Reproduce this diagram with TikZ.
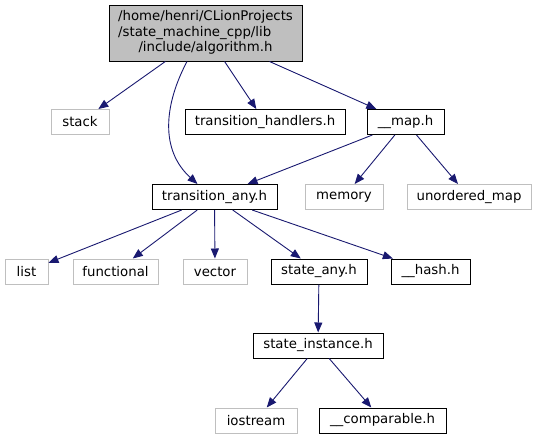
\documentclass[tikz,border=0pt]{standalone}
\usepackage{fontspec}
\setmainfont{DejaVu Sans}
\usetikzlibrary{arrows.meta, positioning, calc}
\definecolor{edgeblue}{HTML}{191970}
\definecolor{sysgray}{HTML}{BFBFBF}
\definecolor{rootfill}{HTML}{BFBFBF}
\tikzset{every node/.style={font=\fontsize{13.3}{15.5}\selectfont, inner sep=0pt, minimum height=25pt}, >={Triangle[length=10pt, width=8pt]}}
\tikzset{
    hdr/.style={draw=black, fill=white, line width=1pt},
    sys/.style={draw=sysgray, fill=white, line width=1pt},
    rootbox/.style={draw=black, fill=rootfill, line width=1pt},
    dep/.style={->, draw=edgeblue, line width=0.9pt}
}

\begin{document}
\begin{tikzpicture}[x=1pt, y=-1pt]
    \useasboundingbox (0,0) rectangle (537,440);
    \node [
        rootbox,
        minimum width=193pt,
        minimum height=56pt
    ] (root) at (205.5,33) {%
        \renewcommand{\arraystretch}{1}%
        \begin{tabular}{@{}l@{}}
            /home/henri/CLionProjects\\
            /state\_machine\_cpp/lib\\
            \multicolumn{1}{@{}c@{}}{/include/algorithm.h}
        \end{tabular}};
    % level 1
    \node [sys, minimum width=58pt] (stack) at (80,122) {stack};
    \node [hdr, minimum width=160pt] (handlers) at (265,122) {transition\_handlers.h};
    \node [hdr, minimum width=77pt] (map) at (405.5,122) {\_\_map.h};
    % level 2
    \node [hdr, minimum width=125pt] (tany) at (214.5,197) {transition\_any.h};
    \node [sys, minimum width=78pt] (memory) at (344,197) {memory};
    \node [sys, minimum width=124pt] (umap) at (469,197) {unordered\_map};
    % level 3
    \node [sys, minimum width=43pt] (list) at (26.5,271.5) {list};
    \node [sys, minimum width=85pt] (functional) at (115.5,271.5) {functional};
    \node [sys, minimum width=64pt] (vector) at (215,271.5) {vector};
    \node [hdr, minimum width=96pt] (sany) at (319,271.5) {state\_any.h};
    \node [hdr, minimum width=79pt] (hash) at (430.5,271.5) {\_\_hash.h};
    % level 4 and 5
    \node [hdr, minimum width=130pt] (sinst) at (318,345.5) {state\_instance.h};
    \node [sys, minimum width=82pt] (iostream) at (256,420.5) {iostream};
    \node [hdr, minimum width=127pt] (comparable) at (382.5,420.5) {\_\_comparable.h};

    \foreach \a/\b in {root/stack, root/handlers, root/map, map/tany, map/memory, map/umap,
        tany/list, tany/functional, tany/vector, tany/sany, tany/hash,
        sany/sinst, sinst/iostream, sinst/comparable}
        \draw [dep] (\a) -- (\b);
    \draw [dep] ([xshift=-18.5pt]root.south) .. controls (164,105) and (160,150) .. ([xshift=-17pt]tany.north);
\end{tikzpicture}
\end{document}
